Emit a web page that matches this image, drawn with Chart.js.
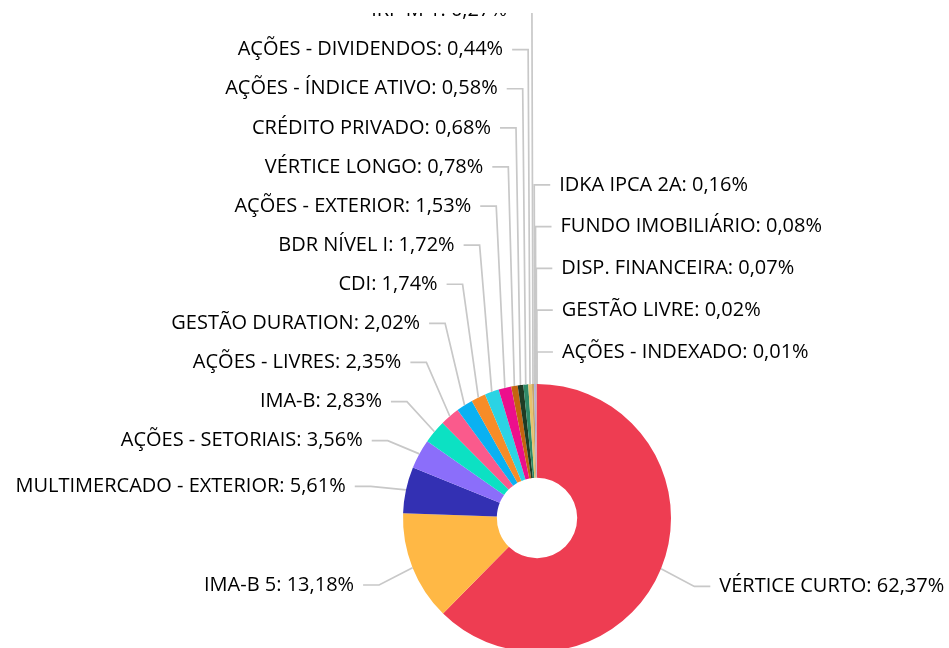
<!DOCTYPE html>
<html>
<head>
<meta charset="utf-8">
<script src="https://cdn.jsdelivr.net/npm/chart.js@4.4.1/dist/chart.umd.min.js"></script>
<style>
  html, body { margin: 0; padding: 0; background: #fff; }
  #wrap { width: 949px; height: 648px; overflow: hidden; position: relative; }
  canvas { display: block; }
</style>
</head>
<body>
<div id="wrap"><canvas id="pie" width="949" height="700"></canvas></div>
<script>
// categorias (sentido horário a partir do topo)
const categories = [
    'VÉRTICE CURTO', 'IMA-B 5', 'MULTIMERCADO - EXTERIOR', 'AÇÕES - SETORIAIS', 'IMA-B',
    'AÇÕES - LIVRES', 'GESTÃO DURATION', 'CDI', 'BDR NÍVEL I', 'AÇÕES - EXTERIOR',
    'VÉRTICE LONGO', 'CRÉDITO PRIVADO', 'AÇÕES - ÍNDICE ATIVO', 'AÇÕES - DIVIDENDOS', 'IRF-M 1',
    'IDKA IPCA 2A', 'FUNDO IMOBILIÁRIO', 'DISP. FINANCEIRA', 'GESTÃO LIVRE', 'AÇÕES - INDEXADO'
];
// percentuais
const values = [
    62.37, 13.18, 5.61, 3.56, 2.83,
    2.35, 2.02, 1.74, 1.72, 1.53,
    0.78, 0.68, 0.58, 0.44, 0.27,
    0.16, 0.08, 0.07, 0.02, 0.01
];
const colors = [
    '#EE3D52', '#FFB845', '#3330B3', '#8B6EFA', '#0CE1C3',
    '#FA5A8C', '#0AB1F2', '#F78C28', '#2BD3E4', '#EC0F8C',
    '#C4640F', '#1F3B24', '#2E8A67', '#E6C36E', '#C8A46A',
    '#9BB0D8', '#B07CC6', '#D8B26E', '#6D4C8F', '#D0A0B0'
];

const LABEL_OFFSET = 36;   // distância do canto do tick além do raio
const LABEL_DY = 4;
const TICK = 16;           // trecho horizontal
const TEXT_GAP = 9;
const GAP_LEFT = 39.1;
const GAP_RIGHT = 41.8;
const CLIP_TOP = 13;       // área visível do gráfico começa aqui

function fmt(v) {
    return v.toFixed(2).replace('.', ',') + '%';
}

// rótulos externos com linhas guia
const sliceLabels = {
    id: 'sliceLabels',
    afterDatasetsDraw(chart) {
        const ctx = chart.ctx;
        const arcs = chart.getDatasetMeta(0).data;
        const items = arcs.map((arc, i) => {
            const p = arc.getProps(['x', 'y', 'startAngle', 'endAngle', 'outerRadius'], true);
            const mid = (p.startAngle + p.endAngle) / 2;
            let a = mid + Math.PI / 2;
            if (a > Math.PI) a -= 2 * Math.PI;
            const R = p.outerRadius + LABEL_OFFSET;
            return {
                i, a, cx: p.x,
                ex: p.x + Math.cos(mid) * p.outerRadius,
                ey: p.y + Math.sin(mid) * p.outerRadius,
                kx: p.x + Math.cos(mid) * R,
                ky: p.y + Math.sin(mid) * R + LABEL_DY
            };
        });

        // fatias coladas no topo vão para a direita (não cabem à esquerda)
        const right = items.filter(o => o.kx >= o.cx - 4).sort((m, n) => m.a - n.a);
        const left = items.filter(o => o.kx < o.cx - 4).sort((m, n) => m.a - n.a);

        for (let k = right.length - 2; k >= 0; k--) {
            right[k].ky = Math.min(right[k].ky, right[k + 1].ky - GAP_RIGHT);
        }
        for (let k = 1; k < left.length; k++) {
            left[k].ky = Math.min(left[k].ky, left[k - 1].ky - GAP_LEFT);
        }

        ctx.save();
        ctx.beginPath();
        ctx.rect(0, CLIP_TOP, chart.width, chart.height);
        ctx.clip();
        ctx.font = '20px "Open Sans"';
        ctx.textBaseline = 'middle';
        ctx.strokeStyle = '#c8c8c8';
        ctx.lineWidth = 1.7;

        const draw = (o, dir) => {
            ctx.beginPath();
            ctx.moveTo(o.ex, o.ey);
            ctx.lineTo(o.kx, o.ky);
            ctx.lineTo(o.kx + dir * TICK, o.ky);
            ctx.stroke();
            ctx.fillStyle = '#000';
            ctx.textAlign = dir > 0 ? 'left' : 'right';
            ctx.fillText(categories[o.i] + ': ' + fmt(values[o.i]), o.kx + dir * (TICK + TEXT_GAP), o.ky);
        };
        left.forEach(o => draw(o, -1));
        right.forEach(o => draw(o, 1));
        ctx.restore();
    }
};

new Chart(document.getElementById('pie').getContext('2d'), {
    type: 'doughnut',
    data: {
        labels: categories,
        datasets: [{
            data: values,
            backgroundColor: colors,
            borderWidth: 0
        }]
    },
    options: {
        responsive: false,
        animation: false,
        cutout: '30%',
        layout: { padding: { left: 403, right: 278, top: 384, bottom: 48 } },
        plugins: {
            legend: { display: false },
            tooltip: { enabled: false }
        }
    },
    plugins: [sliceLabels]
});
</script>
</body>
</html>
